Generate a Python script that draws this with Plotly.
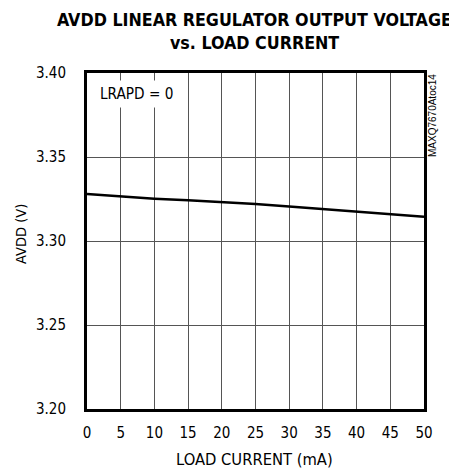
import plotly.graph_objects as go

# Load current sweep (mA) and measured AVDD output (V)
load_ma = [0, 5, 10, 15, 20, 25, 30, 35, 40, 45, 50]
avdd_v = [3.328, 3.3265, 3.3252, 3.3242, 3.3232, 3.322, 3.3206, 3.319, 3.3177, 3.316, 3.3145]

x_ticks = [0, 5, 10, 15, 20, 25, 30, 35, 40, 45, 50]
y_ticks = [3.20, 3.25, 3.30, 3.35, 3.40]

FONT = "DejaVu Sans Condensed, Liberation Sans Narrow, Arial Narrow, sans-serif"
GRID = "#555555"
CLEAR = "rgba(0,0,0,0)"

# plot box in page pixels (the page adds an 8px body margin)
BOX_L, BOX_T, BOX_W, BOX_H = 87, 73, 337, 336


def px(xp):
    return (xp - BOX_L) / BOX_W


def py(yp):
    return (BOX_T + BOX_H - yp) / BOX_H


fig = go.Figure()
fig.add_trace(go.Scatter(
    x=load_ma, y=avdd_v, mode="lines",
    line=dict(color="black", width=2.5),
    showlegend=False, hoverinfo="skip",
))

fig.update_layout(
    width=457, height=470,
    margin=dict(l=79, r=41, t=65, b=69),
    paper_bgcolor="white", plot_bgcolor="white",
    font=dict(family=FONT, size=15, color="black"),
)

fig.update_xaxes(
    range=[0, 50], tickvals=x_ticks, ticktext=[str(v) for v in x_ticks],
    showgrid=True, gridcolor=GRID, gridwidth=1,
    showline=True, linecolor="black", linewidth=3, mirror=True,
    ticks="outside", ticklen=8, tickcolor=CLEAR, zeroline=False,
    automargin=False, tickfont=dict(size=15),
)
fig.update_yaxes(
    range=[3.20, 3.40], tickvals=y_ticks, ticktext=[f"{v:.2f}" for v in y_ticks],
    showgrid=True, gridcolor=GRID, gridwidth=1,
    showline=True, linecolor="black", linewidth=3, mirror=True,
    ticks="outside", ticklen=15, tickcolor=CLEAR, zeroline=False,
    automargin=False, tickfont=dict(size=15),
)

# title, two centred lines
fig.add_annotation(
    text="<b>AVDD LINEAR REGULATOR OUTPUT VOLTAGE</b>", xref="paper", yref="paper",
    x=px(254), y=py(19.5), xanchor="center", yanchor="middle",
    showarrow=False, font=dict(size=17.7),
)
fig.add_annotation(
    text="<b>vs. LOAD CURRENT</b>", xref="paper", yref="paper",
    x=px(254), y=py(43.5), xanchor="center", yanchor="middle",
    showarrow=False, font=dict(size=17.7),
)
# axis titles
fig.add_annotation(
    text="LOAD CURRENT (mA)", xref="paper", yref="paper",
    x=px(254), y=py(460), xanchor="center", yanchor="middle",
    showarrow=False, font=dict(size=16.4),
)
fig.add_annotation(
    text="AVDD (V)", xref="paper", yref="paper",
    x=px(21), y=py(234), xanchor="center", yanchor="middle",
    showarrow=False, textangle=-90, font=dict(size=14.5),
)

fig.add_annotation(
    text="LRAPD = 0", xref="paper", yref="paper",
    x=px(95), y=py(93.5),
    xanchor="left", yanchor="middle", showarrow=False,
    bgcolor="white", borderpad=4, font=dict(size=15.2),
)
fig.add_annotation(
    text="MAXQ7670Atoc14", xref="paper", yref="paper",
    x=px(432), y=py(116),
    xanchor="center", yanchor="middle", showarrow=False,
    textangle=-90, font=dict(family="Liberation Sans, Arial, sans-serif", size=10),
)
# fragment of a neighbouring label cut by the left edge
fig.add_annotation(
    text="<b>E</b>", xref="paper", yref="paper",
    x=px(10), y=py(17),
    xanchor="right", yanchor="middle", showarrow=False,
    font=dict(size=17.7),
)

fig.write_html("out.html")
